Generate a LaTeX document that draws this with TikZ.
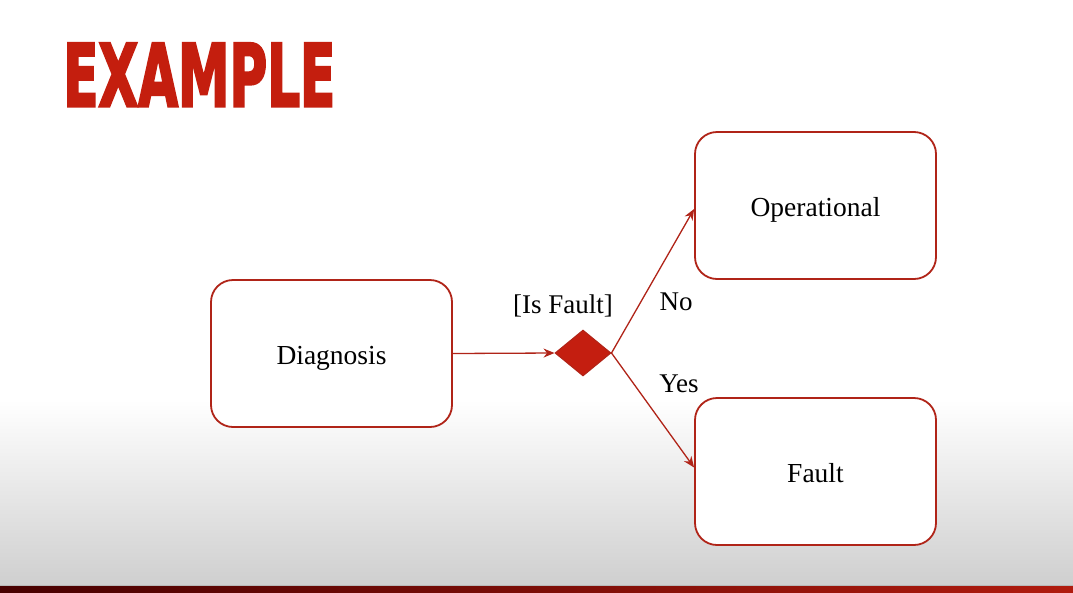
\documentclass[tikz,border=0pt]{standalone}
\usepackage{fontspec}
\setmainfont{Liberation Serif}
\newfontfamily\titlefont[FakeBold=3]{DejaVu Sans Condensed}
\usetikzlibrary{shapes.geometric,arrows.meta}
\definecolor{linered}{HTML}{B02418}
\definecolor{fillred}{HTML}{C41E10}
\definecolor{titlered}{HTML}{C41E0E}
\definecolor{bargrey}{HTML}{CFCFCF}
\tikzset{
  state/.style={draw=linered, line width=1.8pt, rounded corners=22pt, fill=white,
    minimum width=241pt, minimum height=147pt, font=\fontsize{27.5}{31}\selectfont,
    text height=21pt, text depth=0pt},
  choice/.style={diamond, draw=linered, fill=fillred, line width=1pt,
    minimum width=56pt, minimum height=46pt, inner sep=0pt, aspect=1.2},
  flow/.style={draw=linered, line width=1.3pt, -{Stealth[length=11pt,width=9pt]}},
  label/.style={font=\fontsize{27}{31}\selectfont, inner sep=0pt}
}
\begin{document}
\begin{tikzpicture}[x=1pt,y=-1pt]
  % page and background fade
  \useasboundingbox (0,0) rectangle (1073,592);
  \fill[white] (0,0) rectangle (1073,592);
  \shade[top color=white, bottom color=bargrey] (0,400) rectangle (1073,585);
  \fill[gray!55] (0,585) rectangle (1073,586.5);
  \shade[left color=black!60!red!70!black, right color=fillred!90!black] (0,586.5) rectangle (1073,592);

  % title
  \node[anchor=north west, inner sep=0pt, text=titlered] (title) at (63,43)
    {\resizebox{272pt}{63pt}{\titlefont\bfseries EXAMPLE}};

  % states
  \node[state] (diag) at (331.5,353.5) {Diagnosis};
  \node[state] (oper) at (815.5,205.5) {Operational};
  \node[state] (fault) at (815.5,471.5) {Fault};

  % decision
  \node[choice] (dec) at (583,353) {};

  % flows
  \draw[flow] (diag.east) -- (dec.west);
  \draw[flow] (dec.east) -- ([yshift=-3.5pt]oper.west);
  \draw[flow] (dec.east) -- ([yshift=4pt]fault.west);

  % guard and branch labels
  \node[label] (guard) at (563,306) {[Is Fault]};
  \node[label] (no) at (676,302) {No};
  \node[label] (yes) at (679,384) {Yes};
\end{tikzpicture}
\end{document}
